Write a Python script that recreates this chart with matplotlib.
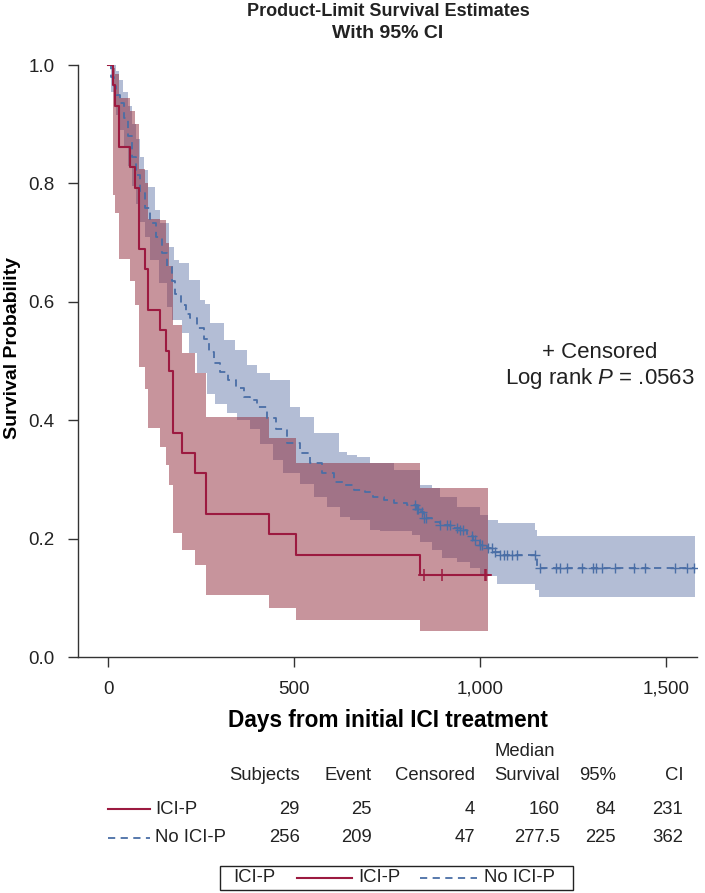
import numpy as np
import matplotlib
matplotlib.use("Agg")
import matplotlib.pyplot as plt
from matplotlib.patches import Rectangle

plt.rcParams['font.family'] = ['Liberation Sans', 'DejaVu Sans']
plt.rcParams['mathtext.fontset'] = 'custom'
plt.rcParams['mathtext.it'] = 'Liberation Sans:italic'
plt.rcParams['mathtext.rm'] = 'Liberation Sans'

# ICI-P: Kaplan-Meier steps (days, survival) and 95% CI bounds at each step
ici_t = [0, 12, 19, 30, 57, 72, 83, 99, 108, 138, 156, 162, 173, 198, 232, 262, 432, 505, 837]
ici_s = [1.0, 0.966, 0.931, 0.862, 0.828, 0.793, 0.690, 0.655, 0.586, 0.552, 0.517, 0.483,
         0.379, 0.345, 0.310, 0.241, 0.207, 0.172, 0.138]
ici_lo = [1.0, 0.78, 0.75, 0.673, 0.635, 0.595, 0.49, 0.453, 0.387, 0.355, 0.324, 0.29,
          0.209, 0.181, 0.155, 0.105, 0.083, 0.0625, 0.044]
ici_hi = [1.0, 0.995, 0.985, 0.945, 0.923, 0.90, 0.825, 0.80, 0.74, 0.739, 0.70, 0.66,
          0.56, 0.514, 0.479, 0.405, 0.37, 0.327, 0.285]
ici_end = 1020
ici_cens = [848, 897, 1012, 1015]

# No ICI-P: survival curve knots
no_t = [0, 8, 15, 22, 32, 42, 52, 64, 74, 84, 98, 113, 128, 144, 158, 170, 180, 195, 208, 220,
        238, 256, 270, 283, 300, 323, 343, 364, 382, 400, 427, 450, 480, 516, 543, 575, 606, 630,
        660, 690, 713, 740, 767, 803, 830, 840, 848, 870, 892, 920, 946, 965, 982, 1000, 1018,
        1035, 1054, 1154]
no_s = [1.0, 0.98, 0.965, 0.95, 0.935, 0.91, 0.88, 0.845, 0.815, 0.783, 0.758, 0.733, 0.71,
        0.682, 0.659, 0.635, 0.614, 0.595, 0.58, 0.572, 0.555, 0.537, 0.515, 0.496, 0.482, 0.468,
        0.455, 0.44, 0.434, 0.423, 0.403, 0.385, 0.361, 0.344, 0.327, 0.31, 0.296, 0.29, 0.282,
        0.279, 0.270, 0.265, 0.26, 0.257, 0.25, 0.245, 0.234, 0.228, 0.223, 0.218, 0.215, 0.205,
        0.198, 0.19, 0.184, 0.178, 0.172, 0.15]
no_end = 1578
no_cens = [825, 830, 834, 843, 850, 855, 892, 910, 919, 937, 946, 955, 978, 987, 1000, 1004,
           1022, 1031, 1040, 1054, 1063, 1072, 1085, 1099, 1148, 1160, 1204, 1215, 1234, 1273,
           1304, 1312, 1327, 1363, 1413, 1442, 1524, 1556, 1574]

# No ICI-P: CI upper / lower bounds (days, value)
no_hi_t = [0, 10, 20, 30, 40, 52, 64, 74, 84, 95, 108, 126, 140, 162, 176, 189, 216, 247, 261,
           274, 310, 341, 373, 400, 435, 489, 516, 552, 619, 642, 668, 704, 767, 839, 870, 892,
           937, 1000, 1021, 1049, 1148, 1154]
no_hi = [1.0, 1.0, 0.99, 0.975, 0.955, 0.93, 0.90, 0.875, 0.845, 0.823, 0.794, 0.755, 0.733,
         0.693, 0.67, 0.665, 0.637, 0.603, 0.597, 0.564, 0.535, 0.519, 0.493, 0.479, 0.468, 0.423,
         0.406, 0.378, 0.347, 0.341, 0.338, 0.327, 0.316, 0.29, 0.285, 0.27, 0.254, 0.24, 0.231,
         0.226, 0.215, 0.204]
no_lo_t = [0, 8, 15, 22, 32, 42, 52, 64, 74, 84, 98, 113, 135, 158, 171, 198, 216, 238, 265,
           288, 319, 346, 382, 409, 444, 471, 516, 552, 588, 624, 650, 704, 731, 816, 839, 870,
           897, 937, 973, 1000, 1018, 1045, 1148, 1157]
no_lo = [1.0, 0.955, 0.935, 0.915, 0.89, 0.86, 0.83, 0.795, 0.765, 0.735, 0.71, 0.67, 0.631,
         0.592, 0.57, 0.547, 0.513, 0.479, 0.445, 0.428, 0.412, 0.40, 0.385, 0.36, 0.333, 0.31,
         0.293, 0.271, 0.254, 0.237, 0.231, 0.215, 0.212, 0.206, 0.195, 0.181, 0.167, 0.161,
         0.15, 0.141, 0.136, 0.124, 0.113, 0.102]

groups = ['ICI-P', 'No ICI-P']
subjects = ['29', '256']
events = ['25', '209']
censored = ['4', '47']
median = ['160', '277.5']
ci_low = ['84', '225']
ci_high = ['231', '362']

RED = '#9c1a40'
BLUE = '#4a6ea6'
RED_FILL = '#912b3b'
BLUE_FILL = '#697dad'


def step_at(t, v, x):
    idx = np.searchsorted(np.asarray(t), np.asarray(x), side='right') - 1
    return np.asarray(v)[idx]


fig = plt.figure(figsize=(7.05, 8.93), dpi=100)

# background axes in pixel units for the table and legend
bg = fig.add_axes([0, 0, 1, 1])
bg.set_xlim(0, 705)
bg.set_ylim(893, 0)
bg.axis('off')

ax = fig.add_axes([78 / 705, 1 - 657 / 893, (697 - 78) / 705, (657 - 65) / 893])
ax.patch.set_alpha(0)

# blue CI band
grid = np.unique(np.concatenate([no_t, no_hi_t, no_lo_t, [no_end]]))
ax.fill_between(grid, step_at(no_lo_t, no_lo, grid), step_at(no_hi_t, no_hi, grid),
                step='post', color=BLUE_FILL, alpha=0.5, lw=0)
# red CI band
rx = ici_t + [ici_end]
ax.fill_between(rx, ici_lo + [ici_lo[-1]], ici_hi + [ici_hi[-1]], step='post',
                color=RED_FILL, alpha=0.5, lw=0)

# survival curves
ax.step(no_t + [no_end], no_s + [no_s[-1]], where='post', color=BLUE, lw=1.3,
        linestyle=(0, (4, 3)))
ax.plot(no_cens, step_at(no_t, no_s, no_cens), '+', color=BLUE, ms=7, mew=1.0)
ax.step(ici_t + [ici_end], ici_s + [ici_s[-1]], where='post', color=RED, lw=1.5)
ax.plot(ici_cens, step_at(ici_t, ici_s, ici_cens), '+', color=RED, ms=8, mew=1.1)

ax.set_xlim(-81.5, 1583)
ax.set_ylim(0, 1.0)
ax.set_xticks([0, 500, 1000, 1500])
ax.set_xticklabels(['0', '500', '1,000', '1,500'])
ax.set_yticks([0.0, 0.2, 0.4, 0.6, 0.8, 1.0])
ax.set_yticklabels(['0.0', '0.2', '0.4', '0.6', '0.8', '1.0'])
for s in ['top', 'right']:
    ax.spines[s].set_visible(False)
for s in ['left', 'bottom']:
    ax.spines[s].set_color('#333333')
    ax.spines[s].set_linewidth(1.0)
ax.tick_params(length=7, width=1, color='#333333', labelsize=13.5, labelcolor='#222222')
ax.tick_params(axis='x', pad=10)
ax.tick_params(axis='y', pad=10)
ax.set_xlabel('Days from initial ICI treatment', fontsize=16.3, fontweight='bold', labelpad=8)
ax.set_ylabel('Survival Probability', fontsize=14, fontweight='bold')
ax.yaxis.set_label_coords(-0.092, 0.522)

ax.text(1322, 0.515, '+ Censored', fontsize=16, ha='center', va='center', color='#222222')
ax.text(1322, 0.471, 'Log rank $\\mathit{P}$ = .0563', fontsize=16, ha='center', va='center',
        color='#222222')

# title
fig.text(388 / 705, 1 - 12 / 893, 'Product-Limit Survival Estimates', fontsize=13,
         fontweight='bold', ha='center', va='center', color='#222222')
fig.text(388 / 705, 1 - 34 / 893, 'With 95% CI', fontsize=14, fontweight='bold',
         ha='center', va='center', color='#222222')

# table below the plot
fs = 13.3
tc = '#222222'
col_x = [300, 372, 475, 560, 616, 683]
headers = ['Subjects', 'Event', 'Censored', 'Survival', '95%', 'CI']
bg.text(525, 751, 'Median', fontsize=fs, ha='center', va='center', color=tc)
for x, h in zip(col_x, headers):
    bg.text(x, 776, h, fontsize=fs, ha='right', va='center', color=tc)
rows_y = [809, 838]
for i, y in enumerate(rows_y):
    vals = [subjects[i], events[i], censored[i], median[i], ci_low[i], ci_high[i]]
    for x, v in zip(col_x, vals):
        bg.text(x, y, v, fontsize=fs, ha='right', va='center', color=tc)
    bg.text(155, y, groups[i], fontsize=fs, ha='left', va='center', color=tc)
bg.plot([108, 150], [rows_y[0], rows_y[0]], color=RED, lw=1.5)
bg.plot([108, 150], [rows_y[1], rows_y[1]], color=BLUE, lw=1.3, linestyle=(0, (4, 3)))

# legend box at bottom
bg.add_patch(Rectangle((220, 866), 353, 24, fill=False, edgecolor='#222222', lw=1.0))
bg.text(233, 878, 'ICI-P', fontsize=fs, ha='left', va='center', color=tc)
bg.plot([297, 352], [878, 878], color=RED, lw=1.5)
bg.text(358, 878, groups[0], fontsize=fs, ha='left', va='center', color=tc)
bg.plot([420, 477], [878, 878], color=BLUE, lw=1.3, linestyle=(0, (4, 3)))
bg.text(484, 878, groups[1], fontsize=fs, ha='left', va='center', color=tc)

fig.savefig('out.png', dpi=100)
